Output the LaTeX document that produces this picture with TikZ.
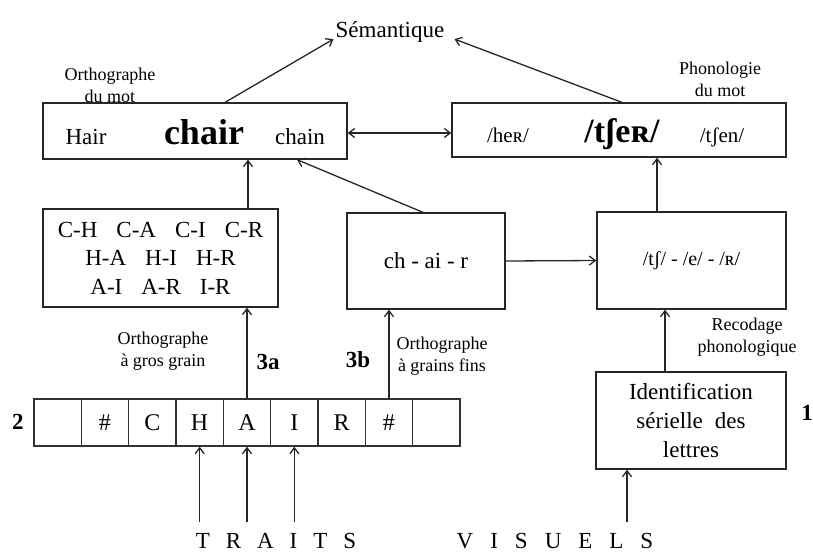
\documentclass[tikz,border=0pt]{standalone}
\usepackage{fontspec}
\setmainfont{Liberation Serif}
\usetikzlibrary{arrows.meta}
\begin{document}
\begin{tikzpicture}[x=1pt,y=-1pt,
  box/.style={draw=black!85, line width=1.3pt, inner sep=0pt},
  arr/.style={draw=black!85, line width=1.3pt, -{Straight Barb[length=6pt,width=9pt]}},
  darr/.style={draw=black!85, line width=1.3pt, {Straight Barb[length=6pt,width=9pt]}-{Straight Barb[length=6pt,width=9pt]}},
  med/.style={font=\fontsize{23}{29}\selectfont, inner sep=0pt, align=center},
  sml/.style={font=\fontsize{18}{22}\selectfont, inner sep=0pt, align=center},
  num/.style={font=\fontsize{23}{27}\selectfont\bfseries, inner sep=0pt},
  cell/.style={draw=black!80, line width=1.4pt, minimum width=47.33pt, minimum height=47pt, inner sep=0pt, font=\fontsize{24}{28}\selectfont}
]
\useasboundingbox (0,0) rectangle (813,552);

% semantics
\node[med, anchor=base] (sem) at (390,37) {Sémantique};

% word-level boxes
\node[box, minimum width=304pt, minimum height=56pt] (ortho) at (195,131) {};
\node[box, minimum width=334pt, minimum height=54pt] (phono) at (619,130) {};
\node[med, anchor=base] (hair) at (86,144) {Hair};
\node[font=\fontsize{36}{40}\selectfont\bfseries, inner sep=0pt, anchor=base] (chair) at (204,144) {chair};
\node[med, anchor=base] (chain) at (300,144) {chain};
\node[font=\fontsize{21}{25}\selectfont, inner sep=0pt, anchor=base] (her) at (508,142) {/heʀ/};
\node[font=\fontsize{34}{38}\selectfont\bfseries, inner sep=0pt, anchor=base] (tser) at (622,142) {/tʃeʀ/};
\node[font=\fontsize{21}{25}\selectfont, inner sep=0pt, anchor=base] (tsen) at (722,142) {/tʃen/};
\node[sml] (lortho) at (110,85) {Orthographe\\du mot};
\node[sml] (lphono) at (720,79) {Phonologie\\du mot};

% middle boxes
\node[box, minimum width=235pt, minimum height=98pt, font=\fontsize{23}{28.5}\selectfont, align=center] (bigram) at (160.5,258)
  {C-H\hspace{19pt}C-A\hspace{19pt}C-I\hspace{19pt}C-R\\H-A\hspace{19pt}H-I\hspace{19pt}H-R\\A-I\hspace{19pt}A-R\hspace{19pt}I-R};
\node[box, minimum width=158pt, minimum height=96pt, med] (grain) at (426,261) {ch - ai - r};
\node[box, minimum width=189pt, minimum height=97pt, font=\fontsize{20}{24}\selectfont] (phonseg) at (691.5,260.5) {/tʃ/ - /e/ - /ʀ/};
\node[box, minimum width=190pt, minimum height=97pt, med] (ident) at (691,420.5) {Identification\\sérielle\hspace{12pt}des\\lettres};

% labels
\node[sml] (lgros) at (163,351) {Orthographe\\à gros grain};
\node[sml] (lfins) at (442,356) {Orthographe\\à grains fins};
\node[sml] (lrecod) at (747,337) {Recodage\\phonologique};
\node[num] (n3a) at (268,362) {3a};
\node[num] (n3b) at (358,360) {3b};
\node[num] (n2) at (18,422) {2};
\node[num] (n1) at (807,413) {1};

% letter row
\foreach \i/\t in {1/{},2/\#,3/C,4/H,5/A,6/I,7/R,8/\#,9/{}} {
  \node[cell] (cell\i) at ({34+47.33*(\i-0.5)},422.5) {\t};
}

% bottom texts
\node[med, anchor=base] (traits) at (276,548) {T\hspace{16pt}R\hspace{16pt}A\hspace{16pt}I\hspace{16pt}T\hspace{16pt}S};
\node[med, anchor=base] (visuels) at (555,548) {V\hspace{17pt}I\hspace{17pt}S\hspace{17pt}U\hspace{17pt}E\hspace{17pt}L\hspace{17pt}S};

% helper coordinates
\coordinate (c1) at ([xshift=87.5pt]bigram.north);
\coordinate (c2) at ([xshift=-34.5pt]phonseg.north);
\coordinate (c3) at ([xshift=-26pt]ident.north);
\coordinate (c4) at ([xshift=-64pt]ident.south);
\coordinate (v0) at (627,522);
\coordinate (t1) at (cell4.south |- v0);
\coordinate (t2) at (cell5.south |- v0);
\coordinate (t3) at (cell6.south |- v0);

% connectors
\draw[arr] ([xshift=30pt]ortho.north) -- ([xshift=-2pt,yshift=3pt]sem.south west);
\draw[arr] ([xshift=3pt]phono.north) -- ([xshift=10pt,yshift=3pt]sem.south east);
\draw[darr] ([yshift=-2pt]ortho.east) -- ([yshift=-3pt]phono.west);
\draw[arr] (c1) -- (c1 |- ortho.south);
\draw[arr] ([xshift=-3pt]grain.north) -- ([xshift=102pt]ortho.south);
\draw[arr] (grain.east) -- (phonseg.west);
\draw[arr] (c2) -- (c2 |- phono.south);
\draw[arr] (c3) -- (c3 |- phonseg.south);
\draw[arr] (v0) -- (c4);
\draw[arr] (cell5.north) -- (cell5.north |- bigram.south);
\draw[arr] (cell8.north) -- (cell8.north |- grain.south);
\draw[arr] (t1) -- (cell4.south);
\draw[arr] (t2) -- (cell5.south);
\draw[arr] (t3) -- (cell6.south);
\end{tikzpicture}
\end{document}
